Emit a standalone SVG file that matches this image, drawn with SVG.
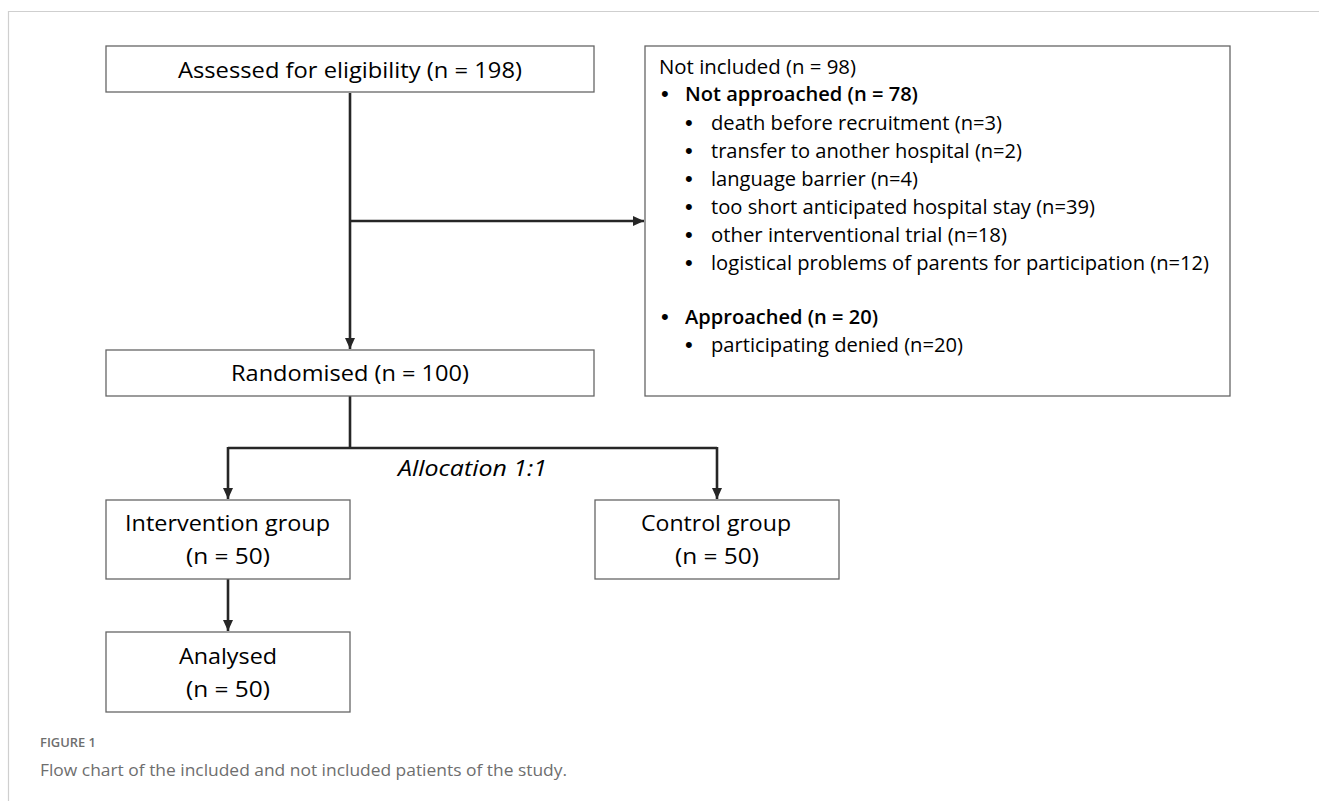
<svg xmlns="http://www.w3.org/2000/svg" width="1319" height="801" viewBox="0 0 1319 801">
<style>
.box{fill:#fff;stroke:#666;stroke-width:1.3}
.t{font-family:"Open Sans","Liberation Sans",sans-serif;font-size:22px;fill:#000}
.l{font-family:"Open Sans","Liberation Sans",sans-serif;font-size:20.5px;fill:#000}
.d{font-family:"Liberation Sans",sans-serif;font-size:22px;fill:#000}
.b{font-weight:600}
.c{stroke:#262626;stroke-width:2.6;fill:none}
.frame{stroke:#cfcfcf;stroke-width:1.2;fill:none}
</style>
<defs>
<marker id="ah" viewBox="0 0 11 11" refX="11" refY="5.5" markerWidth="11" markerHeight="11" markerUnits="userSpaceOnUse" orient="auto">
<path d="M0,0.5 L11,5.5 L0,10.5 Z" fill="#262626"/>
</marker>
</defs>
<rect width="1319" height="801" fill="#fff"/>
<path class="frame" d="M1319,11.5 H8.5 V801"/>

<g id="connectors">
<path class="c" d="M350,93 V349" marker-end="url(#ah)"/>
<path class="c" d="M350,221 H644" marker-end="url(#ah)"/>
<path class="c" d="M350,396 V448"/>
<path class="c" d="M228,448 H717"/>
<path class="c" d="M228,447 V499" marker-end="url(#ah)"/>
<path class="c" d="M717,447 V499" marker-end="url(#ah)"/>
<path class="c" d="M228,579 V631" marker-end="url(#ah)"/>
<text class="t" x="398" y="476" font-style="italic" textLength="149" lengthAdjust="spacingAndGlyphs">Allocation 1:1</text>
</g>

<g id="assessed">
<rect class="box" x="106" y="46" width="488" height="46"/>
<text class="t" x="178" y="78" textLength="344" lengthAdjust="spacingAndGlyphs">Assessed for eligibility (n = 198)</text>
</g>

<g id="not-included">
<rect class="box" x="645" y="46" width="585" height="350"/>
<text class="l" x="659" y="74" textLength="197" lengthAdjust="spacingAndGlyphs">Not included (n = 98)</text>
<text class="d" x="661" y="101">•</text>
<text class="l b" x="685" y="101" textLength="233" lengthAdjust="spacingAndGlyphs">Not approached (n = 78)</text>
<text class="d" x="685" y="130">•</text>
<text class="l" x="711" y="130" textLength="291" lengthAdjust="spacingAndGlyphs">death before recruitment (n=3)</text>
<text class="d" x="685" y="158">•</text>
<text class="l" x="711" y="158" textLength="311" lengthAdjust="spacingAndGlyphs">transfer to another hospital (n=2)</text>
<text class="d" x="685" y="186">•</text>
<text class="l" x="711" y="186" textLength="207" lengthAdjust="spacingAndGlyphs">language barrier (n=4)</text>
<text class="d" x="685" y="214">•</text>
<text class="l" x="711" y="214" textLength="384" lengthAdjust="spacingAndGlyphs">too short anticipated hospital stay (n=39)</text>
<text class="d" x="685" y="242">•</text>
<text class="l" x="711" y="242" textLength="296" lengthAdjust="spacingAndGlyphs">other interventional trial (n=18)</text>
<text class="d" x="685" y="270">•</text>
<text class="l" x="711" y="270" textLength="498" lengthAdjust="spacingAndGlyphs">logistical problems of parents for participation (n=12)</text>
<text class="d" x="661" y="324">•</text>
<text class="l b" x="685" y="324" textLength="193" lengthAdjust="spacingAndGlyphs">Approached (n = 20)</text>
<text class="d" x="685" y="352">•</text>
<text class="l" x="711" y="352" textLength="252" lengthAdjust="spacingAndGlyphs">participating denied (n=20)</text>
</g>

<g id="randomised">
<rect class="box" x="106" y="350" width="488" height="46"/>
<text class="t" x="231" y="381" textLength="238" lengthAdjust="spacingAndGlyphs">Randomised (n = 100)</text>
</g>

<g id="intervention">
<rect class="box" x="106" y="500" width="244" height="79"/>
<text class="t" x="125" y="531" textLength="205" lengthAdjust="spacingAndGlyphs">Intervention group</text>
<text class="t" x="186" y="564" textLength="84" lengthAdjust="spacingAndGlyphs">(n = 50)</text>
</g>

<g id="control">
<rect class="box" x="595" y="500" width="244" height="79"/>
<text class="t" x="641" y="531" textLength="150" lengthAdjust="spacingAndGlyphs">Control group</text>
<text class="t" x="675" y="564" textLength="84" lengthAdjust="spacingAndGlyphs">(n = 50)</text>
</g>

<g id="analysed">
<rect class="box" x="106" y="632" width="244" height="80"/>
<text class="t" x="179" y="664" textLength="98" lengthAdjust="spacingAndGlyphs">Analysed</text>
<text class="t" x="186" y="697" textLength="84" lengthAdjust="spacingAndGlyphs">(n = 50)</text>
</g>

<g id="caption">
<text x="40" y="747" font-family="Open Sans, Liberation Sans, sans-serif" font-size="12.5" font-weight="600" fill="#6e6e6e" textLength="56" lengthAdjust="spacingAndGlyphs">FIGURE 1</text>
<text x="40" y="776" font-family="Open Sans, Liberation Sans, sans-serif" font-size="16" fill="#6e6e6e" textLength="527" lengthAdjust="spacingAndGlyphs">Flow chart of the included and not included patients of the study.</text>
</g>
</svg>
